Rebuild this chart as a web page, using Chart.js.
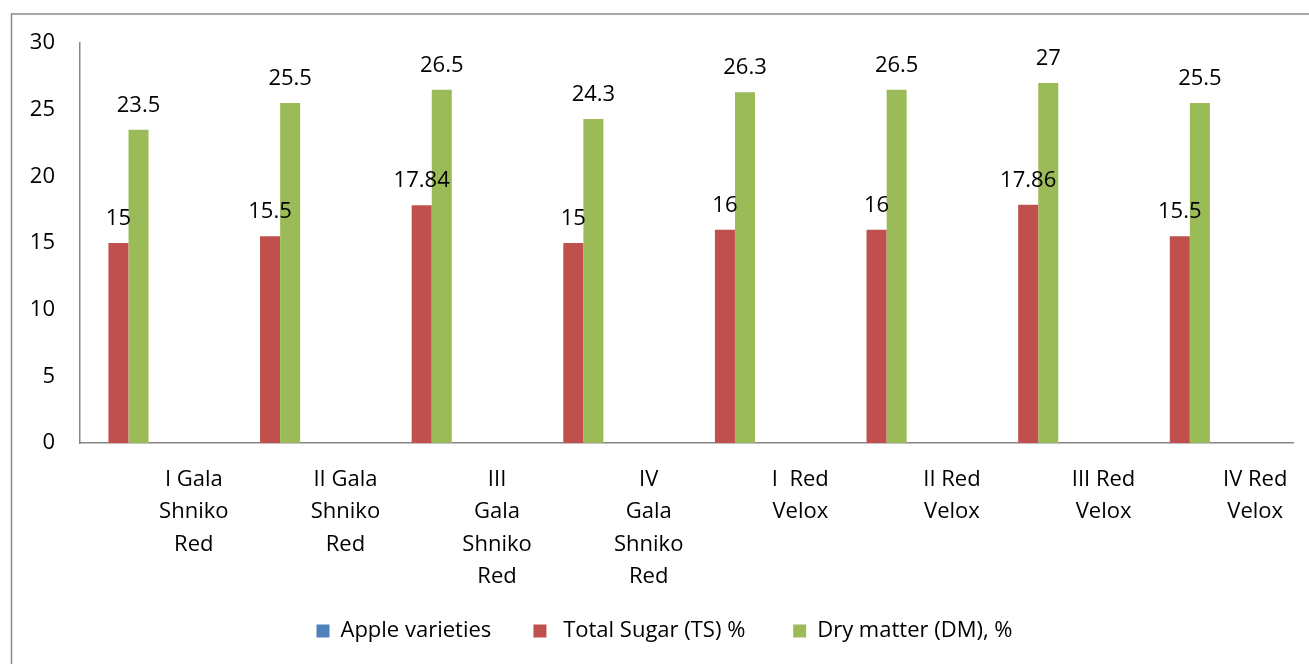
<!DOCTYPE html>
<html>
<head>
<meta charset="utf-8">
<script src="https://cdn.jsdelivr.net/npm/chart.js@4/dist/chart.umd.min.js"></script>
<style>
  html, body { margin: 0; padding: 0; background: #fff; }
  #wrap { width: 1309px; height: 664px; }
</style>
</head>
<body>
<div id="wrap"><canvas id="c" width="1309" height="664"></canvas></div>
<script>
// ---- data ----
const categories = [
  ["I Gala", "Shniko", "Red"],
  ["II Gala", "Shniko", "Red"],
  ["III", "Gala", "Shniko", "Red"],
  ["IV", "Gala", "Shniko", "Red"],
  ["I  Red", "Velox"],
  ["II Red", "Velox"],
  ["III Red", "Velox"],
  ["IV Red", "Velox"]
];
const seriesNames = ["Apple varieties", " Total Sugar (TS) %", "Dry matter (DM), %"];
const appleVarieties = [null, null, null, null, null, null, null, null];
const totalSugar = [15, 15.5, 17.84, 15, 16, 16, 17.86, 15.5];
const dryMatter = [23.5, 25.5, 26.5, 24.3, 26.3, 26.5, 27, 25.5];
const yTicks = [0, 5, 10, 15, 20, 25, 30];
const spacer = [null, null, null, null, null, null, null, null];

const FONT = "'Open Sans', 'DejaVu Sans', sans-serif";
Chart.defaults.font.family = FONT;
Chart.defaults.font.size = 22;
Chart.defaults.color = '#000';

const frame = {
  id: 'frame',
  beforeDraw(chart) {
    const ctx = chart.ctx;
    ctx.save();
    ctx.fillStyle = '#fff';
    ctx.fillRect(0, 0, chart.width, chart.height);
    ctx.strokeStyle = '#8a8a8a';
    ctx.lineWidth = 1.5;
    ctx.strokeRect(11.5, 14, chart.width + 50, chart.height + 50);
    ctx.restore();
  }
};

const valueLabels = {
  id: 'valueLabels',
  afterDatasetsDraw(chart) {
    const ctx = chart.ctx;
    ctx.save();
    ctx.font = "22px " + FONT;
    ctx.fillStyle = '#000';
    ctx.textAlign = 'center';
    ctx.textBaseline = 'alphabetic';
    [1, 2].forEach(di => {
      const meta = chart.getDatasetMeta(di);
      const data = chart.data.datasets[di].data;
      meta.data.forEach((el, i) => {
        if (data[i] == null) return;
        ctx.fillText(String(data[i]), el.x, el.y - 18);
      });
    });
    ctx.restore();
  }
};

new Chart(document.getElementById('c'), {
  type: 'bar',
  data: {
    labels: categories,
    datasets: [
      { label: seriesNames[0], data: appleVarieties, backgroundColor: '#4F81BD', borderWidth: 0,
        order: 2, categoryPercentage: 0.8, barPercentage: 0.8 },
      { label: seriesNames[1], data: totalSugar, backgroundColor: '#C0504D', borderWidth: 0,
        order: 0, categoryPercentage: 0.6578, barPercentage: 0.802 },
      { label: seriesNames[2], data: dryMatter, backgroundColor: '#9BBB59', borderWidth: 0,
        order: 1, categoryPercentage: 0.9128, barPercentage: 0.578 },
      { label: '', data: spacer, backgroundColor: 'rgba(0,0,0,0)', borderWidth: 0,
        order: 3, categoryPercentage: 0.8, barPercentage: 0.8 }
    ]
  },
  options: {
    responsive: false,
    animation: false,
    devicePixelRatio: 1,
    layout: { padding: { left: 20, right: 0, top: 43, bottom: 12 } },
    plugins: {
      tooltip: { enabled: false },
      legend: {
        position: 'bottom',
        labels: {
          boxWidth: 13, boxHeight: 13, padding: 25,
          font: { size: 22, family: FONT }, color: '#000',
          filter: (item) => item.datasetIndex < 3,
          sort: (a, b) => a.datasetIndex - b.datasetIndex,
          generateLabels(chart) {
            const items = Chart.defaults.plugins.legend.labels.generateLabels(chart);
            items.forEach(it => {
              if (it.datasetIndex === 0) it.text = it.text + '   ';
              if (it.datasetIndex === 1) it.text = it.text + '    ';
            });
            return items;
          }
        }
      }
    },
    scales: {
      x: {
        type: 'category',
        grid: { display: false, drawTicks: false },
        border: { display: true, color: '#868686', width: 1.5 },
        ticks: {
          autoSkip: false, maxRotation: 0, minRotation: 0,
          padding: 20, labelOffset: 38,
          font: { size: 22, family: FONT, lineHeight: 1.48 }, color: '#000'
        },
        afterFit(scale) { scale.height = 152; }
      },
      y: {
        min: 0, max: 30,
        afterBuildTicks(scale) { scale.ticks = yTicks.map(v => ({ value: v })); },
        grid: { display: false, drawTicks: false },
        border: { display: true, color: '#868686', width: 1.5 },
        ticks: { padding: 25, font: { size: 22, family: FONT }, color: '#000' },
        afterFit(scale) { scale.width = 60; }
      },
      yRight: {
        position: 'right',
        display: true,
        grid: { display: false, drawTicks: false },
        border: { display: false },
        ticks: { display: false },
        afterFit(scale) { scale.width = 16; }
      }
    }
  },
  plugins: [frame, valueLabels]
});
</script>
</body>
</html>
